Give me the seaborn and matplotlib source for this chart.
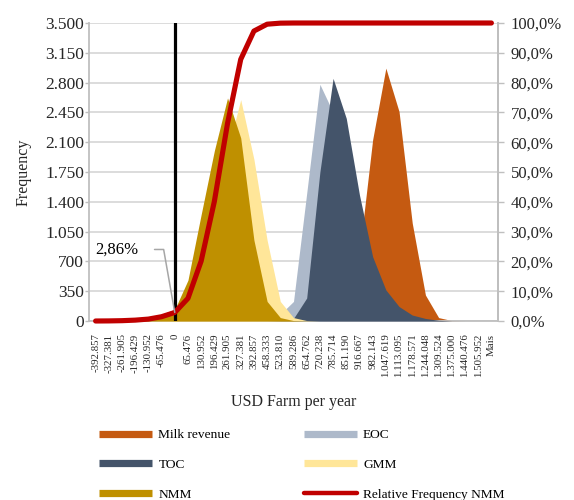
import matplotlib
matplotlib.use("Agg")
import matplotlib.pyplot as plt
import seaborn as sns
import numpy as np
import pandas as pd
from matplotlib.lines import Line2D

# ---------------- data ----------------
categories = ["-392.857", "-327.381", "-261.905", "-196.429", "-130.952", "-65.476", "0",
              "65.476", "130.952", "196.429", "261.905", "327.381", "392.857", "458.333",
              "523.810", "589.286", "654.762", "720.238", "785.714", "851.190", "916.667",
              "982.143", "1.047.619", "1.113.095", "1.178.571", "1.244.048", "1.309.524",
              "1.375.000", "1.440.476", "1.505.952", "Mais"]

milk_revenue = [0, 0, 0, 0, 0, 0, 0, 0, 0, 0, 0, 0, 0, 0, 0, 0, 0, 0,
                20, 150, 800, 2130, 2970, 2460, 1150, 305, 40, 5, 0, 0, 0]
eoc = [0, 0, 0, 0, 0, 0, 0, 0, 0, 0, 0, 0, 0, 10, 80, 230, 1500, 2780,
       2450, 1500, 750, 370, 170, 70, 30, 8, 0, 0, 0, 0, 0]
toc = [0, 0, 0, 0, 0, 0, 0, 0, 0, 0, 0, 0, 0, 0, 5, 30, 270, 1750,
       2850, 2380, 1480, 755, 365, 170, 70, 30, 8, 0, 0, 0, 0]
gmm = [0, 0, 0, 0, 0, 5, 20, 120, 480, 1250, 2000, 2600, 1900, 950, 230, 40, 5, 0,
       0, 0, 0, 0, 0, 0, 0, 0, 0, 0, 0, 0, 0]
nmm = [0, 3, 8, 18, 35, 80, 136, 480, 1250, 2000, 2620, 2150, 950, 230, 40, 5, 0, 0,
       0, 0, 0, 0, 0, 0, 0, 0, 0, 0, 0, 0, 0]
rel_freq_nmm = [0.0, 0.03, 0.11, 0.29, 0.64, 1.44, 2.86, 7.6, 20.1, 40.1, 66.3, 87.8,
                97.3, 99.6, 99.95, 100, 100, 100, 100, 100, 100, 100, 100, 100, 100,
                100, 100, 100, 100, 100, 100]

freq_ticks = [0, 350, 700, 1050, 1400, 1750, 2100, 2450, 2800, 3150, 3500]
freq_labels = ["0", "350", "700", "1.050", "1.400", "1.750", "2.100", "2.450", "2.800", "3.150", "3.500"]
pct_ticks = [0, 10, 20, 30, 40, 50, 60, 70, 80, 90, 100]
pct_labels = ["0,0%", "10,0%", "20,0%", "30,0%", "40,0%", "50,0%", "60,0%", "70,0%",
              "80,0%", "90,0%", "100,0%"]

series_names = ["Milk revenue", "EOC", "TOC", "GMM", "NMM"]
series_values = [milk_revenue, eoc, toc, gmm, nmm]
colors = {"Milk revenue": "#C55A11", "EOC": "#ADB9CA", "TOC": "#44546A",
          "GMM": "#FFE699", "NMM": "#BF9000"}
red = "#C00000"

df = pd.DataFrame({"pos": np.arange(len(categories)), "cat": categories,
                   "rel": np.array(rel_freq_nmm) / 100.0})
for n, v in zip(series_names, series_values):
    df[n] = v

# ---------------- style ----------------
sns.set_theme(style="white")
plt.rcParams["font.family"] = ["Liberation Serif", "DejaVu Serif"]
plt.rcParams["text.color"] = "#000000"

fig = plt.figure(figsize=(5.74, 5.0), dpi=100)
ax = fig.add_axes([89 / 574, 1 - 321 / 500, (498 - 89) / 574, (321 - 23) / 500])

# grid
ax.set_axisbelow(True)
ax.yaxis.grid(True, color="#D9D9D9", linewidth=1.3)
ax.xaxis.grid(False)

# areas
for z, n in enumerate(series_names):
    ax.fill_between(df["pos"], 0, df[n], color=colors[n], linewidth=0, zorder=2 + z)

ax.axvline(categories.index("0"), color="black", linewidth=2.3, zorder=10)

ax.set_xlim(-0.5, len(categories) - 0.5)
ax.set_ylim(0, 3500)
ax.set_yticks(freq_ticks)
ax.set_yticklabels(freq_labels, fontsize=12.5)
ax.set_xticks(df["pos"])
ax.set_xticklabels(categories, rotation=90, fontsize=7.8, va="top", ha="center")
ax.tick_params(axis="x", length=0, pad=9)
ax.tick_params(axis="y", length=3, width=1, color="#BFBFBF", pad=0.5, direction="out")

ax.spines["top"].set_visible(False)
for s in ["left", "bottom", "right"]:
    ax.spines[s].set_color("#BFBFBF")
    ax.spines[s].set_linewidth(1.3)

ax.set_ylabel("Frequency", fontsize=11.5, labelpad=10)
ax.set_xlabel("USD Farm per year", fontsize=11.5, labelpad=12)

# relative frequency line
ax2 = ax.twinx()
sns.lineplot(data=df, x="pos", y="rel", ax=ax2, color=red, linewidth=3.7,
             solid_capstyle="round", solid_joinstyle="round", clip_on=False,
             legend=False, zorder=20)
ax2.set_ylim(0, 1)
ax2.set_yticks(np.array(pct_ticks) / 100.0)
ax2.set_yticklabels(pct_labels, fontsize=12)
ax2.tick_params(axis="y", length=4, width=1, color="#BFBFBF", pad=5, direction="out",
                right=True)
ax2.set_ylabel("")
ax2.set_xlabel("")
for s in ["top", "left", "bottom"]:
    ax2.spines[s].set_visible(False)
ax2.spines["right"].set_color("#BFBFBF")
ax2.spines["right"].set_linewidth(1.3)
ax2.grid(False)

# annotation 2,86%
i0 = categories.index("0")
ax2.annotate("2,86%", xy=(i0, rel_freq_nmm[i0] / 100.0), xytext=(-36, 63),
             textcoords="offset pixels", ha="right", va="center", fontsize=12,
             arrowprops=dict(arrowstyle="-", color="#A6A6A6", lw=1.1,
                             connectionstyle="angle,angleA=0,angleB=100,rad=0",
                             relpos=(1, 0.5), shrinkA=9, shrinkB=0),
             zorder=30)

# legend
handles = [Line2D([0], [0], color=colors["Milk revenue"], lw=5.2, solid_capstyle="butt"),
           Line2D([0], [0], color=colors["TOC"], lw=5.2, solid_capstyle="butt"),
           Line2D([0], [0], color=colors["NMM"], lw=5.2, solid_capstyle="butt"),
           Line2D([0], [0], color=colors["EOC"], lw=5.2, solid_capstyle="butt"),
           Line2D([0], [0], color=colors["GMM"], lw=5.2, solid_capstyle="butt"),
           Line2D([0], [0], color=red, lw=3.2, solid_capstyle="round")]
labels = ["Milk revenue", "TOC", "NMM", "EOC", "GMM", "Relative Frequency NMM"]
fig.legend(handles, labels, loc="upper left", bbox_to_anchor=(99 / 574, 1 - 429 / 500),
           ncol=2, frameon=False, fontsize=9.6, handlelength=4.0, handletextpad=0.45,
           columnspacing=5.5, labelspacing=1.3, borderpad=0, borderaxespad=0)

fig.savefig("out.png", dpi=100)
